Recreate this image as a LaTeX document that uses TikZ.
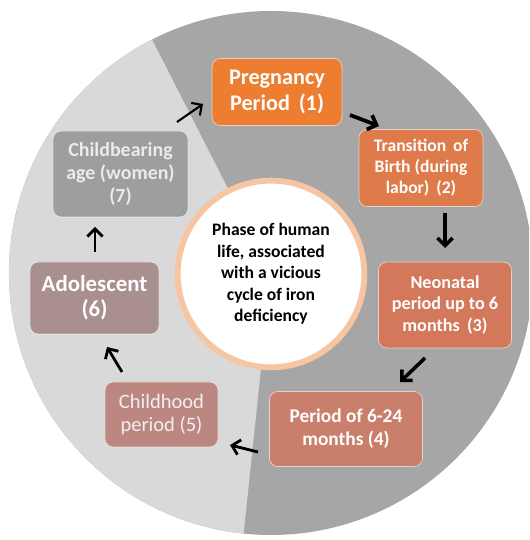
\documentclass[tikz,border=0pt]{standalone}
\usepackage{fontspec}
\setmainfont{Carlito}
\usepackage{tikz}
\usetikzlibrary{arrows.meta,positioning}
\definecolor{ringdark}{HTML}{A6A6A6}
\definecolor{ringlight}{HTML}{D9D9D9}
\definecolor{hubedge}{HTML}{F6C6A3}
\definecolor{phaseone}{HTML}{ED7D31}
\definecolor{phasetwo}{HTML}{DF7A4B}
\definecolor{phasethree}{HTML}{D4785C}
\definecolor{phasefour}{HTML}{C97F6C}
\definecolor{phasefive}{HTML}{BC8780}
\definecolor{phasesix}{HTML}{A98F8E}
\definecolor{phaseseven}{HTML}{9E9E9E}
\tikzset
{
    phasebox/.style   = {rounded corners=0.25cm, draw=white, draw opacity=0.6, line width=0.6pt, align=center, inner sep=0pt, text=white},
    hub/.style        = {circle, fill=white, draw=hubedge, line width=5pt, minimum size=5.6cm, align=center, inner sep=0pt},
    cyclearrow/.style = {-{Straight Barb[length=6.5pt,width=13pt]}, line width=2.4pt, black}
}
\begin{document}
\begin{tikzpicture}[x=0.03cm, y=0.03cm]
    \clip (0,0) rectangle (529,540);
    \fill[ringdark] (271,267) circle [radius=262];
    \fill[ringlight] (271,267) -- ++(117:262) arc [start angle=117, end angle=264, radius=262] -- cycle;

    \node [hub, font=\fontsize{15}{18.4}\selectfont\bfseries] (hub) at (271,266)
        {Phase of human\\life, associated\\with a vicious\\cycle of iron\\deficiency};

    \node [phasebox, fill=phaseone, minimum width=3.9cm, minimum height=2.01cm, font=\fontsize{19}{23}\selectfont\bfseries] (preg) at (277,448)
        {Pregnancy\\Period\, (1)};
    \node [phasebox, fill=phasetwo, minimum width=3.72cm, minimum height=2.31cm, font=\fontsize{15}{17.8}\selectfont\bfseries] (birth) at (421,372)
        {Transition\, of\\Birth (during\\labor)\, (2)};
    \node [phasebox, fill=phasethree, minimum width=3.99cm, minimum height=2.58cm, font=\fontsize{15.5}{18.7}\selectfont\bfseries] (neonatal) at (445,235)
        {Neonatal\\period up to 6\\months\, (3)};
    \node [phasebox, fill=phasefour, minimum width=4.59cm, minimum height=2.25cm, font=\fontsize{16.5}{19.6}\selectfont\bfseries] (infant) at (346,111)
        {Period of 6-24\\months (4)};
    \node [phasebox, fill=phasefive, minimum width=3.39cm, minimum height=1.95cm, text=white!94!black, font=\fontsize{17.5}{19.5}\selectfont] (child) at (161.5,125.5)
        {Childhood\\period (5)};
    \node [phasebox, fill=phasesix, minimum width=3.87cm, minimum height=2.16cm, font=\fontsize{19.5}{21.5}\selectfont\bfseries] (adol) at (94.5,242)
        {Adolescent\\(6)};
    \node [phasebox, fill=phaseseven, minimum width=4.05cm, minimum height=2.58cm, text=white!92!black, font=\fontsize{17}{19.8}\selectfont\bfseries] (bearing) at (120.5,366)
        {Childbearing\\age (women)\\(7)};

    \coordinate (s71) at (177,418); \coordinate (e71) at (203,436);
    \coordinate (s12) at (350,425); \coordinate (e12) at (379,414);
    \coordinate (s23) at (445,327); \coordinate (e23) at (445,292);
    \coordinate (s34) at (425,182); \coordinate (e34) at (400,158);
    \coordinate (s45) at (258,88);  \coordinate (e45) at (230,95);
    \coordinate (s56) at (122,168); \coordinate (e56) at (107,193);
    \coordinate (s67) at (95,288);  \coordinate (e67) at (95,313);

    \draw [cyclearrow, line width=1.8pt] (s71) -- (e71);
    \draw [cyclearrow, line width=3.2pt] (s12) -- (e12);
    \draw [cyclearrow, line width=3pt] (s23) -- (e23);
    \draw [cyclearrow, line width=3pt] (s34) -- (e34);
    \draw [cyclearrow] (s45) -- (e45);
    \draw [cyclearrow] (s56) -- (e56);
    \draw [cyclearrow] (s67) -- (e67);
\end{tikzpicture}
\end{document}
